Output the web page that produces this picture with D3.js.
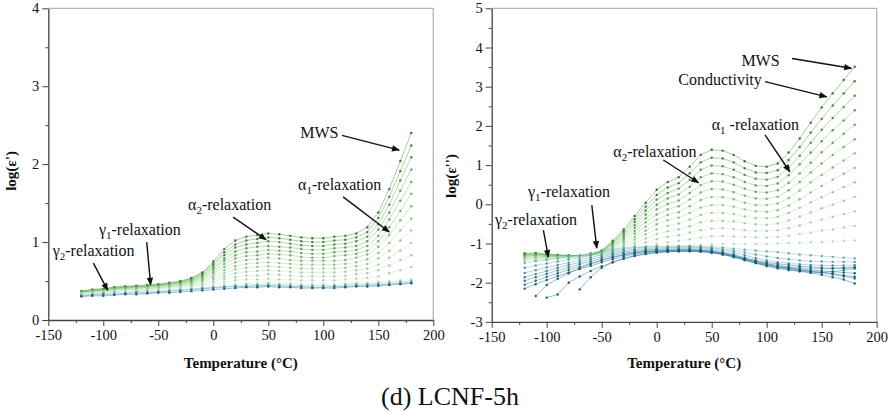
<!DOCTYPE html>
<html>
<head>
<meta charset="utf-8">
<script src="https://cdn.jsdelivr.net/npm/d3@7"></script>
<style>
  body { margin: 0; background: #fff; }
  svg { display: block; }
</style>
</head>
<body>
<svg id="fig" width="888" height="412"></svg>
<script>
// temperatures of every measured point (°C)
const temps = [-120,-110,-100,-90,-80,-70,-60,-50,-40,-30,-20,-10,0,10,20,30,40,50,60,70,80,90,100,110,120,130,140,150,160,170,180];

// log(eps') curves, lowest frequency (top) -> highest frequency (bottom)
const epsPrimeGreen = [
  [.37,.39,.40,.42,.43,.44,.45,.46,.48,.50,.54,.61,.75,.91,1.02,1.07,1.09,1.11,1.10,1.08,1.06,1.05,1.05,1.07,1.08,1.11,1.19,1.38,1.68,2.04,2.40],
  [.37,.39,.40,.42,.43,.43,.44,.45,.47,.49,.53,.60,.72,.87,.97,1.02,1.04,1.06,1.05,1.03,1.01,1.00,1.00,1.02,1.03,1.06,1.13,1.31,1.58,1.91,2.24],
  [.36,.38,.39,.41,.42,.43,.44,.45,.47,.49,.52,.58,.70,.83,.93,.97,.99,1.01,1.00,.98,.96,.95,.95,.97,.98,1.01,1.07,1.23,1.48,1.79,2.09],
  [.36,.38,.39,.41,.42,.42,.43,.44,.46,.48,.51,.57,.67,.79,.88,.92,.94,.95,.94,.93,.91,.90,.90,.92,.93,.95,1.01,1.16,1.38,1.66,1.93],
  [.36,.37,.38,.40,.41,.42,.43,.44,.45,.47,.50,.55,.65,.76,.83,.87,.88,.90,.89,.88,.86,.85,.85,.87,.88,.90,.95,1.08,1.29,1.53,1.77],
  [.35,.37,.38,.40,.41,.41,.42,.43,.45,.46,.49,.54,.62,.72,.79,.82,.83,.85,.84,.83,.81,.80,.80,.82,.83,.85,.89,1.01,1.19,1.40,1.62],
  [.35,.37,.38,.39,.40,.41,.42,.43,.44,.46,.48,.52,.60,.68,.74,.77,.78,.80,.79,.77,.76,.76,.76,.76,.77,.80,.84,.94,1.09,1.28,1.46],
  [.35,.36,.37,.39,.40,.40,.41,.42,.43,.45,.47,.51,.57,.64,.69,.72,.73,.74,.73,.72,.71,.71,.71,.71,.72,.74,.78,.86,.99,1.15,1.30],
  [.34,.36,.37,.38,.39,.39,.40,.41,.43,.44,.46,.49,.54,.60,.65,.67,.68,.69,.68,.67,.66,.66,.66,.66,.67,.69,.72,.79,.89,1.02,1.15],
  [.34,.35,.36,.38,.39,.39,.40,.41,.42,.43,.45,.48,.52,.56,.60,.62,.63,.64,.63,.62,.61,.61,.61,.61,.62,.64,.66,.71,.80,.89,.99],
  [.34,.35,.36,.37,.38,.38,.39,.40,.41,.43,.44,.46,.49,.53,.55,.57,.57,.59,.58,.57,.56,.56,.56,.56,.57,.59,.60,.64,.70,.77,.83],
  [.33,.34,.35,.37,.38,.38,.39,.40,.41,.42,.43,.45,.47,.49,.51,.52,.52,.53,.52,.52,.51,.51,.51,.51,.52,.53,.54,.56,.60,.64,.68],
  [.33,.34,.35,.36,.37,.37,.38,.39,.40,.41,.42,.43,.44,.45,.46,.47,.47,.48,.47,.47,.46,.46,.46,.46,.47,.48,.48,.49,.50,.51,.52]
];
const epsPrimeBlue = [
  [.32,.33,.34,.35,.35,.36,.37,.37,.38,.39,.40,.41,.42,.43,.44,.45,.45,.46,.45,.45,.44,.44,.44,.44,.45,.46,.46,.47,.48,.49,.50],
  [.31,.32,.33,.33,.34,.35,.35,.36,.37,.38,.39,.40,.41,.42,.43,.43,.44,.44,.44,.43,.43,.42,.42,.43,.43,.44,.45,.45,.46,.47,.48],
  [.30,.31,.31,.32,.33,.33,.34,.35,.35,.36,.37,.38,.39,.40,.41,.42,.42,.43,.42,.42,.41,.41,.41,.41,.42,.43,.43,.44,.45,.46,.47]
];

// log(eps'') curves
const epsLossGreen = [
  [-1.25,-1.24,-1.27,-1.29,-1.30,-1.31,-1.28,-1.18,-0.93,-0.64,-0.30,0.04,0.37,0.57,0.69,0.96,1.26,1.39,1.37,1.26,1.10,0.98,0.96,1.04,1.32,1.68,2.08,2.47,2.83,3.17,3.51],
  [-1.27,-1.26,-1.28,-1.30,-1.31,-1.31,-1.28,-1.19,-0.96,-0.69,-0.38,-0.06,0.24,0.43,0.54,0.79,1.07,1.19,1.17,1.07,0.92,0.81,0.80,0.87,1.13,1.46,1.83,2.18,2.52,2.83,3.14],
  [-1.28,-1.27,-1.29,-1.31,-1.31,-1.32,-1.29,-1.20,-0.99,-0.74,-0.45,-0.16,0.12,0.29,0.40,0.62,0.88,0.99,0.97,0.88,0.75,0.65,0.63,0.70,0.94,1.24,1.57,1.90,2.20,2.48,2.77],
  [-1.30,-1.29,-1.30,-1.32,-1.32,-1.32,-1.29,-1.21,-1.01,-0.79,-0.53,-0.26,-0.01,0.15,0.25,0.45,0.69,0.79,0.77,0.69,0.57,0.48,0.47,0.53,0.74,1.02,1.32,1.61,1.89,2.14,2.40],
  [-1.32,-1.30,-1.32,-1.32,-1.32,-1.32,-1.29,-1.22,-1.04,-0.84,-0.60,-0.36,-0.13,0.01,0.10,0.29,0.49,0.59,0.58,0.50,0.40,0.32,0.30,0.36,0.55,0.79,1.06,1.33,1.57,1.80,2.03],
  [-1.33,-1.32,-1.33,-1.33,-1.33,-1.33,-1.30,-1.23,-1.07,-0.89,-0.68,-0.46,-0.26,-0.13,-0.05,0.12,0.30,0.39,0.38,0.31,0.22,0.15,0.14,0.19,0.36,0.57,0.81,1.04,1.26,1.46,1.66],
  [-1.35,-1.34,-1.34,-1.34,-1.34,-1.33,-1.30,-1.23,-1.10,-0.93,-0.75,-0.57,-0.39,-0.27,-0.20,-0.05,0.11,0.19,0.18,0.13,0.04,-0.02,-0.02,0.02,0.16,0.35,0.56,0.75,0.94,1.12,1.30],
  [-1.37,-1.35,-1.35,-1.35,-1.34,-1.33,-1.30,-1.24,-1.12,-0.98,-0.83,-0.67,-0.51,-0.41,-0.34,-0.22,-0.08,-0.02,-0.02,-0.06,-0.13,-0.18,-0.19,-0.15,-0.03,0.13,0.30,0.47,0.63,0.78,0.93],
  [-1.38,-1.37,-1.36,-1.36,-1.35,-1.34,-1.31,-1.25,-1.15,-1.03,-0.90,-0.77,-0.64,-0.55,-0.49,-0.39,-0.27,-0.22,-0.22,-0.25,-0.31,-0.35,-0.35,-0.32,-0.22,-0.09,0.05,0.18,0.31,0.44,0.56],
  [-1.40,-1.38,-1.37,-1.37,-1.35,-1.34,-1.31,-1.26,-1.18,-1.08,-0.98,-0.87,-0.76,-0.69,-0.64,-0.56,-0.46,-0.42,-0.42,-0.44,-0.48,-0.51,-0.52,-0.49,-0.41,-0.31,-0.21,-0.10,-0.01,0.09,0.19],
  [-1.42,-1.40,-1.39,-1.37,-1.36,-1.34,-1.31,-1.27,-1.21,-1.13,-1.05,-0.97,-0.89,-0.83,-0.79,-0.72,-0.66,-0.62,-0.61,-0.63,-0.66,-0.68,-0.68,-0.66,-0.61,-0.54,-0.46,-0.39,-0.32,-0.25,-0.18],
  [-1.43,-1.41,-1.40,-1.38,-1.36,-1.35,-1.32,-1.28,-1.23,-1.18,-1.13,-1.07,-1.01,-0.97,-0.93,-0.89,-0.85,-0.82,-0.81,-0.82,-0.83,-0.84,-0.85,-0.83,-0.80,-0.76,-0.72,-0.67,-0.64,-0.59,-0.55],
  [-1.45,-1.43,-1.41,-1.39,-1.37,-1.35,-1.32,-1.29,-1.26,-1.23,-1.20,-1.17,-1.14,-1.11,-1.08,-1.06,-1.04,-1.02,-1.01,-1.01,-1.01,-1.01,-1.01,-1.00,-0.99,-0.98,-0.97,-0.96,-0.95,-0.93,-0.92]
];
const epsLossBlue = [
  [-1.50,-1.45,-1.42,-1.38,-1.34,-1.30,-1.24,-1.18,-1.14,-1.11,-1.09,-1.08,-1.07,-1.07,-1.06,-1.06,-1.07,-1.08,-1.10,-1.13,-1.16,-1.18,-1.20,-1.22,-1.25,-1.28,-1.30,-1.32,-1.34,-1.36,-1.38],
  [-1.62,-1.56,-1.51,-1.46,-1.41,-1.36,-1.30,-1.23,-1.18,-1.14,-1.11,-1.10,-1.09,-1.09,-1.08,-1.08,-1.09,-1.11,-1.14,-1.18,-1.23,-1.28,-1.33,-1.37,-1.40,-1.43,-1.45,-1.46,-1.47,-1.47,-1.47],
  [-1.75,-1.68,-1.61,-1.55,-1.49,-1.42,-1.36,-1.29,-1.23,-1.18,-1.15,-1.13,-1.12,-1.11,-1.10,-1.10,-1.11,-1.13,-1.17,-1.23,-1.30,-1.37,-1.43,-1.48,-1.51,-1.53,-1.55,-1.56,-1.56,-1.56,-1.55],
  [-1.86,-1.78,-1.70,-1.62,-1.55,-1.48,-1.41,-1.34,-1.27,-1.22,-1.18,-1.16,-1.15,-1.14,-1.13,-1.13,-1.14,-1.16,-1.21,-1.28,-1.36,-1.44,-1.51,-1.56,-1.60,-1.62,-1.64,-1.65,-1.64,-1.62,-1.60],
  [-1.95,-1.86,-1.77,-1.69,-1.61,-1.53,-1.46,-1.38,-1.31,-1.25,-1.21,-1.18,-1.17,-1.16,-1.15,-1.15,-1.16,-1.19,-1.24,-1.32,-1.41,-1.50,-1.58,-1.64,-1.68,-1.71,-1.73,-1.74,-1.72,-1.68,-1.64],
  [-2.05,-1.95,-1.85,-1.76,-1.67,-1.59,-1.51,-1.43,-1.35,-1.29,-1.24,-1.21,-1.19,-1.18,-1.17,-1.17,-1.18,-1.21,-1.26,-1.33,-1.41,-1.48,-1.55,-1.60,-1.64,-1.68,-1.72,-1.74,-1.79,-1.84,-1.89],
  [-2.15,-2.04,-1.93,-1.83,-1.74,-1.65,-1.57,-1.48,-1.40,-1.33,-1.27,-1.23,-1.21,-1.20,-1.19,-1.19,-1.20,-1.23,-1.28,-1.35,-1.43,-1.50,-1.57,-1.62,-1.66,-1.71,-1.75,-1.80,-1.86,-1.92,-2.02],
  [null,-2.34,-2.06,-1.90,-1.76,-1.63,-1.52,-1.43,-1.35,-1.29,-1.24,-1.21,-1.19,-1.18,-1.17,-1.17,-1.18,-1.20,-1.24,-1.30,-1.37,-1.43,-1.48,-1.52,-1.55,-1.58,-1.60,-1.62,-1.63,-1.63,-1.62],
  [null,null,-2.38,-2.30,-2.00,-1.84,-1.70,-1.58,-1.48,-1.39,-1.32,-1.27,-1.23,-1.21,-1.20,-1.19,-1.20,-1.22,-1.26,-1.32,-1.39,-1.46,-1.52,-1.57,-1.61,-1.65,-1.68,-1.70,-1.72,-1.74,-1.76],
  [null,null,null,null,null,-2.17,-1.86,-1.62,-1.48,-1.38,-1.31,-1.26,-1.23,-1.21,-1.20,-1.20,-1.21,-1.24,-1.28,-1.34,-1.41,-1.48,-1.54,-1.59,-1.63,-1.67,-1.71,-1.74,-1.77,-1.81,-1.85]
];

const xTicks = [-150,-100,-50,0,50,100,150,200];
const xMinor = [-125,-75,-25,25,75,125,175];

// annotations: [T, value] of label start, arrow tail and arrow head
const leftNotes = [
  { sym: 'MWS', at: [79, 2.33], from: [117, 2.37], to: [169, 2.18] },
  { sym: 'α', sub: '1', rest: '-relaxation', at: [77, 1.67], from: [118, 1.58], to: [160, 1.13] },
  { sym: 'α', sub: '2', rest: '-relaxation', at: [-23, 1.41], from: [18, 1.32], to: [48, 1.03] },
  { sym: 'γ', sub: '1', rest: '-relaxation', at: [-104, 1.09], from: [-60.5, 1.0], to: [-57, 0.45] },
  { sym: 'γ', sub: '2', rest: '-relaxation', at: [-146, 0.82], from: [-109, 0.73], to: [-96, 0.38] }
];
const rightNotes = [
  { sym: 'MWS', at: [77, 3.53], from: [123, 3.72], to: [177, 3.47] },
  { sym: 'Conductivity', at: [19.6, 3.04], from: [98.5, 3.13], to: [154.5, 2.74] },
  { sym: 'α', sub: '1', rest: ' -relaxation', at: [50, 1.90], from: [98.5, 1.77], to: [121, 0.83] },
  { sym: 'α', sub: '2', rest: '-relaxation', at: [-39.5, 1.21], from: [6, 1.13], to: [38, 0.55] },
  { sym: 'γ', sub: '1', rest: '-relaxation', at: [-117, 0.19], from: [-59, -0.02], to: [-54.5, -1.12] },
  { sym: 'γ', sub: '2', rest: '-relaxation', at: [-147, -0.53], from: [-103, -0.66], to: [-98.5, -1.35] }
];

const serif = '"Liberation Serif", serif';
const svg = d3.select('#fig');

svg.append('defs').append('marker')
    .attr('id', 'arrow')
    .attr('viewBox', '0 0 10 10')
    .attr('refX', 9).attr('refY', 5)
    .attr('markerUnits', 'userSpaceOnUse')
    .attr('markerWidth', 9).attr('markerHeight', 8)
    .attr('orient', 'auto')
  .append('path')
    .attr('d', 'M0,1 L10,5 L0,9 Z')
    .attr('fill', '#111');

let greenCol = d3.scaleLinear()
    .domain([0, 0.3, 0.65, 1])
    .range(['#3b8a2f', '#6cbb60', '#b0e0aa', '#d6f2d9']);

let blueCol = d3.scaleLinear()
    .domain([0, 0.5, 1])
    .range(['#7cc3c0', '#3f95aa', '#22698b']);

function drawPanel(cfg){
  let x = d3.scaleLinear().domain([-150, 200]).range([cfg.left, cfg.right]);
  let y = d3.scaleLinear().domain(cfg.yDomain).range([cfg.bottom, cfg.top]);

  let g = svg.append('g');

  // light frame on top / right
  g.append('path')
    .attr('d', `M${cfg.left},${cfg.top}H${cfg.right}V${cfg.bottom}`)
    .attr('fill', 'none')
    .attr('stroke', '#b5b5b5')
    .attr('stroke-width', 1.3);

  let line = d3.line()
    .defined(d => d[1] != null)
    .x(d => x(d[0]))
    .y(d => y(d[1]));

  let series = [];
  cfg.greens.forEach((vals, i) => series.push({ vals, col: greenCol(i / (cfg.greens.length - 1)) }));
  cfg.blues.forEach((vals, i) => series.push({ vals, col: blueCol(Math.min(1, i / (cfg.blueSpan - 1))) }));

  let curves = g.append('g').selectAll('g.curve')
    .data(series)
    .enter()
    .append('g')
    .attr('class', 'curve');

  curves.append('path')
    .attr('d', s => line(temps.map((t, i) => [t, s.vals[i]])))
    .attr('fill', 'none')
    .attr('stroke', s => s.col)
    .attr('stroke-width', 0.6)
    .attr('stroke-opacity', 0.75);

  curves.selectAll('circle')
    .data(s => temps.map((t, i) => ({ t, v: s.vals[i], col: s.col })).filter(d => d.v != null))
    .enter()
    .append('circle')
    .attr('cx', d => x(d.t))
    .attr('cy', d => y(d.v))
    .attr('r', 1.2)
    .attr('fill', d => d3.color(d.col).darker(0.4))
    .attr('stroke', 'none');

  // axes
  let yMajor = d3.range(cfg.yDomain[0], cfg.yDomain[1] + 1, 1);
  let yMinor = d3.range(cfg.yDomain[0] + 0.5, cfg.yDomain[1], 1);

  let yAxis = g.append('g')
    .attr('transform', `translate(${cfg.left},0)`)
    .call(d3.axisLeft(y).tickValues(yMajor).tickSize(6).tickSizeOuter(0).tickPadding(3));
  g.append('g')
    .attr('transform', `translate(${cfg.left},0)`)
    .call(d3.axisLeft(y).tickValues(yMinor).tickSize(3).tickFormat(''))
    .call(a => a.select('.domain').remove());

  let xAxis = g.append('g')
    .attr('transform', `translate(0,${cfg.bottom})`)
    .call(d3.axisBottom(x).tickValues(xTicks).tickSize(6).tickSizeOuter(0).tickPadding(4));
  g.append('g')
    .attr('transform', `translate(0,${cfg.bottom})`)
    .call(d3.axisBottom(x).tickValues(xMinor).tickSize(3).tickFormat(''))
    .call(a => a.select('.domain').remove());

  g.selectAll('.domain').attr('stroke', '#444').attr('stroke-width', 1.3);
  g.selectAll('.tick line').attr('stroke', '#444');
  g.selectAll('.tick text')
    .style('font-family', serif)
    .style('font-size', '14.5px')
    .attr('fill', '#111');
  yAxis.selectAll('.tick text').text(d => d < 0 ? '-' + Math.abs(d) : d);
  xAxis.selectAll('.tick text').text(d => d < 0 ? '-' + Math.abs(d) : d);

  g.append('text')
    .attr('x', (cfg.left + cfg.right) / 2)
    .attr('y', 368)
    .attr('text-anchor', 'middle')
    .style('font-family', serif)
    .style('font-size', '15px')
    .style('font-weight', 'bold')
    .attr('fill', '#111')
    .text('Temperature (°C)');

  g.append('text')
    .attr('transform', `translate(${cfg.labelX},${cfg.labelY}) rotate(-90)`)
    .attr('text-anchor', 'middle')
    .style('font-family', serif)
    .style('font-size', '15px')
    .style('font-weight', 'bold')
    .attr('fill', '#111')
    .text(cfg.yLabel);

  // annotations
  cfg.notes.forEach(n => {
    let t = g.append('text')
      .attr('x', x(n.at[0]))
      .attr('y', y(n.at[1]))
      .style('font-family', serif)
      .style('font-size', '16px')
      .attr('fill', '#111');
    t.append('tspan').text(n.sym);
    if (n.sub){
      t.append('tspan').attr('dy', 4).style('font-size', '11px').text(n.sub);
      t.append('tspan').attr('dy', -4).text(n.rest);
    }
    g.append('line')
      .attr('x1', x(n.from[0])).attr('y1', y(n.from[1]))
      .attr('x2', x(n.to[0])).attr('y2', y(n.to[1]))
      .attr('stroke', '#111')
      .attr('stroke-width', 1.4)
      .attr('marker-end', 'url(#arrow)');
  });
}

drawPanel({
  left: 48.3, right: 433.3, top: 8.3, bottom: 320,
  yDomain: [0, 4], yLabel: "log(ε')", labelX: 16, labelY: 171,
  greens: epsPrimeGreen, blues: epsPrimeBlue, blueSpan: 3,
  notes: leftNotes
});

drawPanel({
  left: 491.7, right: 876.7, top: 8.3, bottom: 321.9,
  yDomain: [-3, 5], yLabel: "log(ε'')", labelX: 456, labelY: 176,
  greens: epsLossGreen, blues: epsLossBlue, blueSpan: 7,
  notes: rightNotes
});

svg.append('text')
  .attr('x', 450)
  .attr('y', 405)
  .attr('text-anchor', 'middle')
  .style('font-family', serif)
  .style('font-size', '26px')
  .attr('fill', '#111')
  .text('(d) LCNF-5h');
</script>
</body>
</html>
